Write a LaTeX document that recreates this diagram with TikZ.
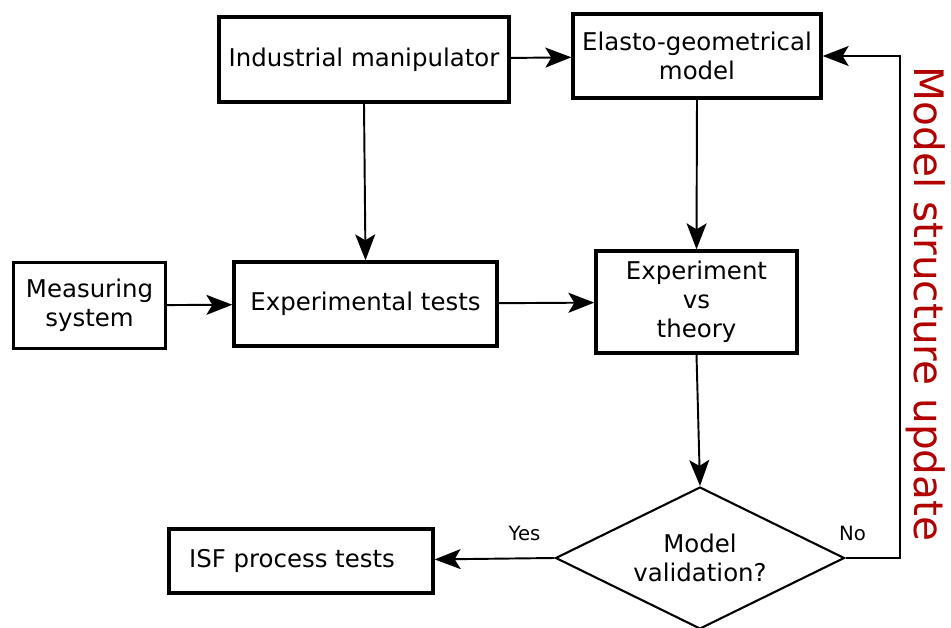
\documentclass[tikz,border=0pt]{standalone}
\usepackage{fontspec}
\setmainfont{DejaVu Sans}
\usepackage{tikz}
\usetikzlibrary{arrows.meta,positioning,shapes.geometric,calc}
\usepackage{xcolor}
\definecolor{updatered}{RGB}{178,0,0}

\begin{document}
\begin{tikzpicture}[
    x={(0.02cm,0)}, y={(0,-0.02cm)},
    box/.style={draw, line width=1.9pt, inner sep=0pt, align=center,
                font=\fontsize{13.9}{16.4}\selectfont},
    thinbox/.style={box, line width=1.4pt},
    decision/.style={draw, diamond, line width=1.2pt, inner sep=0pt, aspect=2,
                     minimum width=5.78cm, minimum height=2.84cm, align=center,
                     font=\fontsize{13.9}{16.4}\selectfont},
    arrow/.style={-{Stealth[length=5.2mm, width=4mm, inset=1.2mm]}, line width=1.1pt},
    answer/.style={font=\fontsize{11.2}{13}\selectfont}
  ]
    \useasboundingbox (0,0) rectangle (951,628);

    % Robot and its model
    \node[box, minimum width=5.8cm, minimum height=1.7cm] (robot) at (364,59.5)
      {Industrial manipulator};
    \node[box, minimum width=4.96cm, minimum height=1.68cm] (model) at (697,56)
      {Elasto-geometrical\\model};

    % Tests
    \node[thinbox, minimum width=3.04cm, minimum height=1.72cm] (measure) at (89.5,305.5)
      {Measuring\\system};
    \node[box, minimum width=5.26cm, minimum height=1.68cm] (tests) at (365.5,304)
      {Experimental tests};
    \node[box, minimum width=4.02cm, minimum height=2.04cm] (compare) at (696.5,302)
      {Experiment\\vs\\theory};

    % Validation
    \node[decision] (valid) at (700,558) {Model\\validation?};
    \node[box, minimum width=5.28cm, minimum height=1.28cm] (isf) at (301,561)
      {ISF process tests\hspace*{0.36cm}};

    % Arrows
    \draw[arrow] (robot) -- (model);
    \draw[arrow] (robot.south) -- (tests.north);
    \draw[arrow] (model.south) -- (compare.north);
    \draw[arrow] (measure) -- (tests);
    \draw[arrow] (tests) -- (compare);
    \draw[arrow] (compare.south) -- (valid.north);
    \draw[arrow] (valid.west) -- node[answer, pos=0.25, above=6pt] {Yes} (isf);
    \coordinate (corner) at (900,56);
    \draw[arrow] (valid.east) -- node[answer, pos=0.13, above=6pt] {No}
      (valid.east -| corner) -- (corner) -- (model.east);

    % Feedback label
    \node[text=updatered, rotate=-90, font=\fontsize{23.1}{26}\selectfont] (update)
      at (926,304) {Model structure update};
  \end{tikzpicture}
\end{document}
